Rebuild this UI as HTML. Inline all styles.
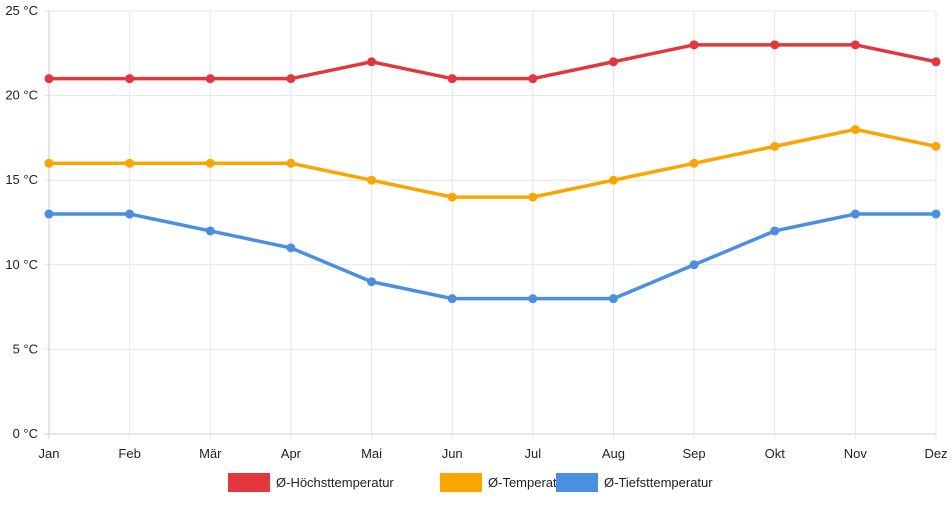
<!DOCTYPE html>
<html><head><meta charset="utf-8"><style>
body{margin:0;background:#fff;font-family:"Liberation Sans",sans-serif}
svg text{font-family:"Liberation Sans",sans-serif;font-size:13px;fill:#222}
</style></head><body>
<svg id="c" width="952" height="500"></svg>
<script>
const categories=["Jan","Feb","Mär","Apr","Mai","Jun","Jul","Aug","Sep","Okt","Nov","Dez"];
const highs=[21,21,21,21,22,21,21,22,23,23,23,22];
const avgs=[16,16,16,16,15,14,14,15,16,17,18,17];
const lows=[13,13,12,11,9,8,8,8,10,12,13,13];
const yTicks=[0,5,10,15,20,25];
const seriesNames=["Ø-Höchsttemperatur","Ø-Temperatur","Ø-Tiefsttemperatur"];
const colors=["#e3363f","#fca500","#4a8fe0"];
const NS="http://www.w3.org/2000/svg";
const svg=document.getElementById('c');
const x0=49,x1=936,yTop=11,yBot=434;
const xs=i=>x0+i*(x1-x0)/(categories.length-1);
const ys=v=>yBot-(v/25)*(yBot-yTop);
function mk(t,a){const e=document.createElementNS(NS,t);for(const k in a)e.setAttribute(k,a[k]);svg.appendChild(e);return e;}
yTicks.forEach(v=>{
 const l=mk('line',{x1:x0-5,x2:x1,y1:ys(v),y2:ys(v),stroke:v===0?'#ccc':'#e6e6e6'});
 
 
 const t=mk('text',{x:38,y:ys(v)+4,'text-anchor':'end'});t.textContent=v+' °C';
 
 
});
categories.forEach((c,i)=>{
 const l=mk('line',{x1:xs(i),x2:xs(i),y1:yTop,y2:yBot+5,stroke:i===0?'#ccc':'#e6e6e6'});
 
 
 const t=mk('text',{x:xs(i),y:458,'text-anchor':'middle'});t.textContent=c;
 
 
});
[highs,avgs,lows].forEach((d,s)=>{
 const p=mk('polyline',{points:d.map((v,i)=>xs(i)+','+ys(v)).join(' '),fill:'none',stroke:colors[s],'stroke-width':3.5});
 
 
 d.forEach((v,i)=>{const c=mk('circle',{cx:xs(i),cy:ys(v),r:4.5,fill:colors[s]});
 
 });
});
const lx=[228,440,556];
seriesNames.forEach((n,s)=>{
 const r=mk('rect',{x:lx[s],y:473,width:42,height:19,fill:colors[s]});
 
 
 const t=mk('text',{x:lx[s]+48,y:487});t.textContent=n;
 
 
});
</script>
</body></html>
